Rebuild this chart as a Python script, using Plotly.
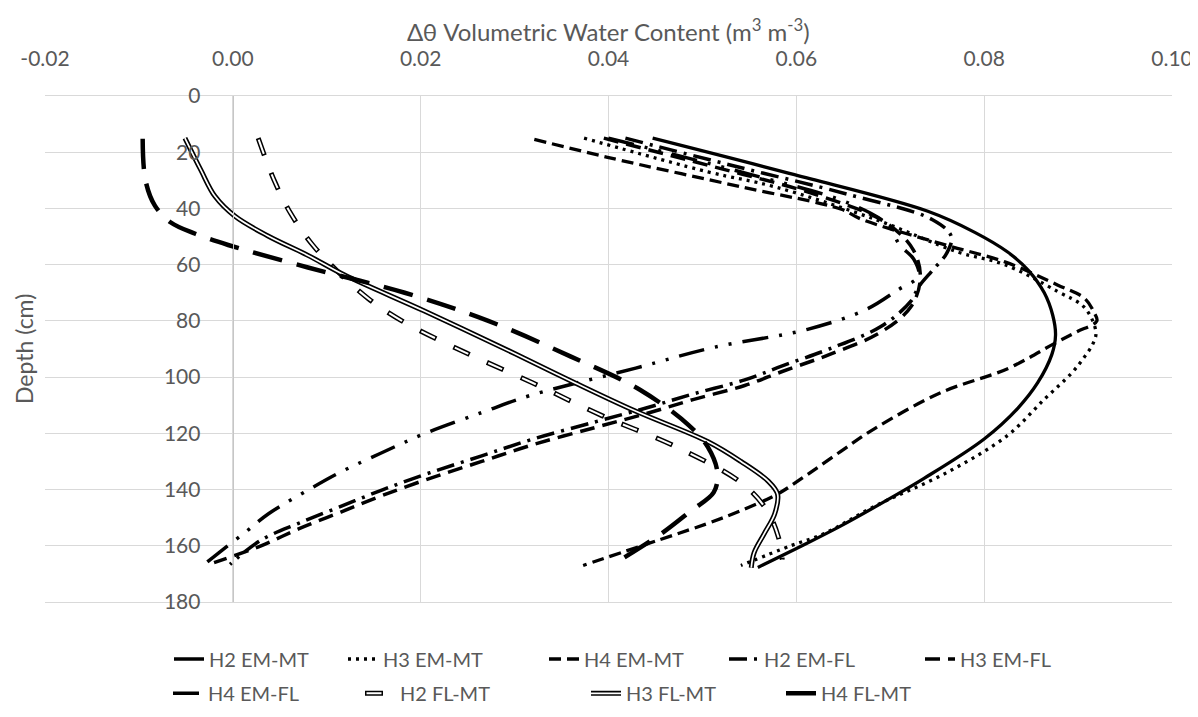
import plotly.graph_objects as go

# ---------------- data ----------------
H2_EM_MT_DEPTH = [15, 28, 41, 48.5, 55.5, 62, 70, 78, 85, 92, 102, 111, 122, 136, 145, 153, 160, 167.7]
H2_EM_MT_VAL = [0.0447, 0.0598, 0.0740, 0.0790, 0.0825, 0.0847, 0.0864, 0.0873, 0.0876, 0.0872,
                0.0857, 0.0836, 0.0800, 0.0736, 0.0690, 0.0647, 0.0606, 0.0559]

H3_EM_MT_DEPTH = [15, 27, 32.3, 44, 55.5, 60, 69.5, 75.3, 84, 88, 92.7, 98.6, 107.9, 120.7, 134, 146, 155.6, 160, 167]
H3_EM_MT_VAL = [0.0374, 0.0506, 0.0577, 0.0685, 0.0772, 0.0822, 0.0878, 0.0907, 0.0919, 0.0916,
                0.0907, 0.0893, 0.0864, 0.0825, 0.0760, 0.0683, 0.0630, 0.0594, 0.0541]

H4_EM_MT_DEPTH = [15.4, 21.8, 32.3, 40.3, 43.8, 53.2, 59, 67.2, 72, 77, 80, 84, 88, 97, 105.5, 118.4,
                  126.5, 134.6, 141.6, 147.5, 152, 158, 167]
H4_EM_MT_VAL = [0.0321, 0.0399, 0.0541, 0.0648, 0.0669, 0.0761, 0.0822, 0.0878, 0.0907, 0.0917, 0.0920,
                0.0898, 0.0875, 0.0825, 0.0754, 0.0683, 0.0647, 0.0612, 0.0580, 0.0541, 0.0506, 0.0453, 0.0373]

H2_EM_FL_DEPTH = [15, 25, 35, 44, 50, 56, 62, 68, 73, 82, 90, 96, 101, 106, 111, 116, 122, 128, 134,
                  140, 146, 152, 158, 166.6]
H2_EM_FL_VAL = [0.0418, 0.0535, 0.0655, 0.0745, 0.0765, 0.0760, 0.0745, 0.0730, 0.0722, 0.0690, 0.0635,
                0.0585, 0.0545, 0.0490, 0.0440, 0.0385, 0.0320, 0.0265, 0.0210, 0.0160, 0.0115, 0.0070,
                0.0030, -0.0003]

H3_EM_FL_DEPTH = [15, 25, 35, 45, 55, 65, 75, 84, 92, 98, 103, 108, 113, 118, 124, 130, 136, 142, 148,
                  154, 160, 166]
H3_EM_FL_VAL = [0.0395, 0.0510, 0.0620, 0.0695, 0.0725, 0.0732, 0.0722, 0.0690, 0.0635, 0.0585, 0.0545,
                0.0490, 0.0440, 0.0385, 0.0320, 0.0265, 0.0210, 0.0160, 0.0115, 0.0070, 0.0030, -0.0020]

H4_EM_FL_DEPTH = [15, 27, 38, 46, 53, 58, 64, 69, 76, 83, 89.5, 96.8, 106.5, 112.5, 120, 127, 134.4,
                  140, 148.6, 155, 162.5, 166]
H4_EM_FL_VAL = [0.0400, 0.0541, 0.0655, 0.0698, 0.0710, 0.0725, 0.0730, 0.0708, 0.0674, 0.0612, 0.0511,
                0.0429, 0.0317, 0.0266, 0.0205, 0.0158, 0.0111, 0.0081, 0.0038, 0.0014, -0.0015, -0.0028]

H2_FL_MT_DEPTH = [15, 30, 42, 53, 62.5, 72, 80, 91, 102, 113.7, 124.5, 137.5, 147, 157, 165]
H2_FL_MT_VAL = [0.0027, 0.0044, 0.0062, 0.0085, 0.0112, 0.0144, 0.0180, 0.0246, 0.0319, 0.0393, 0.0470,
                0.0541, 0.0568, 0.0581, 0.0585]

H3_FL_MT_DEPTH = [15, 26.4, 35.7, 42.7, 49.7, 56.7, 63.7, 76.5, 91.6, 102, 112, 123, 130, 137, 141.6,
                  148.6, 155.6, 162.5, 167.8]
H3_FL_MT_VAL = [-0.0051, -0.0034, -0.0019, 0.0002, 0.0037, 0.0080, 0.0119, 0.0204, 0.0300, 0.0364, 0.0428,
                0.0506, 0.0541, 0.0570, 0.0580, 0.0577, 0.0566, 0.0555, 0.0552]

H4_FL_MT_DEPTH = [15.2, 30, 39, 45, 49, 53, 61, 70, 80, 92.7, 104.4, 117, 125, 134, 141, 147.5, 156, 166.6]
H4_FL_MT_VAL = [-0.0096, -0.0093, -0.0083, -0.0066, -0.0040, -0.0005, 0.0080, 0.0183, 0.0272, 0.0360,
                0.0433, 0.0485, 0.0506, 0.0516, 0.0512, 0.0488, 0.0455, 0.0405]

X_TICKS = [-0.02, 0.00, 0.02, 0.04, 0.06, 0.08, 0.10]
X_TICK_LABELS = ["-0.02", "0.00", "0.02", "0.04", "0.06", "0.08", "0.10"]
Y_TICKS = [0, 20, 40, 60, 80, 100, 120, 140, 160, 180]

SERIES_NAMES = ["H2 EM-MT", "H3 EM-MT", "H4 EM-MT", "H2 EM-FL", "H3 EM-FL",
                "H4 EM-FL", "H2 FL-MT", "H3 FL-MT", "H4 FL-MT"]

# ---------------- styles ----------------
FONT = "Lato"
TXT = "#595959"
GRID = "#d9d9d9"

# (name, x, y, outer line, inner white line, legend, legend entry width)
series = [
    (SERIES_NAMES[0], H2_EM_MT_VAL, H2_EM_MT_DEPTH, dict(width=3.3, dash="solid"), None, "legend", 129),
    (SERIES_NAMES[1], H3_EM_MT_VAL, H3_EM_MT_DEPTH, dict(width=3.3, dash="3px,5px"), None, "legend", 156),
    (SERIES_NAMES[2], H4_EM_MT_VAL, H4_EM_MT_DEPTH, dict(width=3.3, dash="12px,6px"), None, "legend", 135),
    (SERIES_NAMES[3], H2_EM_FL_VAL, H2_EM_FL_DEPTH, dict(width=3.5, dash="18px,7px,3px,7px"), None, "legend", 151),
    (SERIES_NAMES[4], H3_EM_FL_VAL, H3_EM_FL_DEPTH, dict(width=3.5, dash="15px,8px"), None, "legend", 100),
    (SERIES_NAMES[5], H4_EM_FL_VAL, H4_EM_FL_DEPTH, dict(width=3.5, dash="26px,11px,3px,11px,3px,11px"), None, "legend2", 147),
    (SERIES_NAMES[6], H2_FL_MT_VAL, H2_FL_MT_DEPTH, dict(width=5, dash="18px,19px"),
     dict(width=2, dash="0px,1.5px,15px,20.5px"), "legend2", 181),
    (SERIES_NAMES[7], H3_FL_MT_VAL, H3_FL_MT_DEPTH, dict(width=5, dash="solid"),
     dict(width=1.7, dash="solid"), "legend2", 150),
    (SERIES_NAMES[8], H4_FL_MT_VAL, H4_FL_MT_DEPTH, dict(width=4.5, dash="30px,15px"), None, "legend2", 100),
]

fig = go.Figure()
for name, xs, ys, ln, inner, leg, lw in series:
    fig.add_trace(go.Scatter(
        x=xs, y=ys, mode="lines", name=name, legend=leg, legendwidth=lw,
        line=dict(color="black", width=ln["width"], dash=ln["dash"], shape="spline", smoothing=1.0),
        hoverinfo="skip"))
    if inner is not None:
        # white core of the double line; its legend sample sits on top of the black one (legend3)
        fig.add_trace(go.Scatter(
            x=xs, y=ys, mode="lines", name=" ", legend="legend3", legendwidth=lw,
            line=dict(color="white", width=inner["width"], dash=inner["dash"], shape="spline", smoothing=1.0),
            hoverinfo="skip"))

L, R, T, B = 37, 34, 88, 114
W, H = 1198, 717
plot_w = W - L - R
plot_h = H - T - B
x0_frac = (0 - X_TICKS[0]) / (X_TICKS[-1] - X_TICKS[0])

ROW1_Y, ROW2_Y = 661, 696
ROW1_X, ROW2_X = 161, 160
ROW2_SECOND = ROW2_X + 45 + series[5][6]

def legend_cfg(xpx, ypx):
    return dict(orientation="h", x=(xpx - L) / plot_w, xanchor="left", y=-(ypx - (H - B)) / plot_h,
                yanchor="middle", font=dict(family=FONT, size=20, color=TXT), bgcolor="rgba(0,0,0,0)",
                itemwidth=30, itemclick=False, itemdoubleclick=False)

fig.update_layout(
    width=W, height=H,
    margin=dict(l=L, r=R, t=T, b=B, pad=0),
    paper_bgcolor="white", plot_bgcolor="white",
    font=dict(family=FONT, color=TXT, size=21),
    xaxis=dict(range=[X_TICKS[0], X_TICKS[-1]], side="top", tickvals=X_TICKS, ticktext=X_TICK_LABELS,
               showgrid=True, gridcolor=GRID, gridwidth=1.3, zeroline=False,
               showline=True, linecolor=GRID, linewidth=1.3, mirror=True,
               ticks="", ticklabelstandoff=20, tickfont=dict(family=FONT, size=21, color=TXT)),
    yaxis=dict(range=[180, 0], tickvals=Y_TICKS, showgrid=True, gridcolor=GRID, gridwidth=1.3,
               zeroline=False, anchor="free", position=x0_frac, showline=True, linecolor="#c6c6c6",
               linewidth=1.3, ticks="", ticklabelstandoff=28,
               tickfont=dict(family=FONT, size=21, color=TXT)),
    legend=legend_cfg(ROW1_X, ROW1_Y),
    legend2=legend_cfg(ROW2_X, ROW2_Y),
    legend3=legend_cfg(ROW2_SECOND, ROW2_Y),
    showlegend=True,
)

fig.add_annotation(text="Δθ Volumetric Water Content (m<sup>3</sup> m<sup>-3</sup>)",
                   xref="paper", yref="paper", x=0.5, y=1 + (T - 3) / plot_h,
                   xanchor="center", yanchor="top", showarrow=False,
                   font=dict(family=FONT, size=24, color=TXT))
fig.add_annotation(text="Depth (cm)", xref="paper", yref="paper", x=-(L - 16) / plot_w, y=0.5,
                   xanchor="center", yanchor="middle", textangle=-90, showarrow=False,
                   font=dict(family=FONT, size=23, color=TXT))

fig.write_html("out.html")
